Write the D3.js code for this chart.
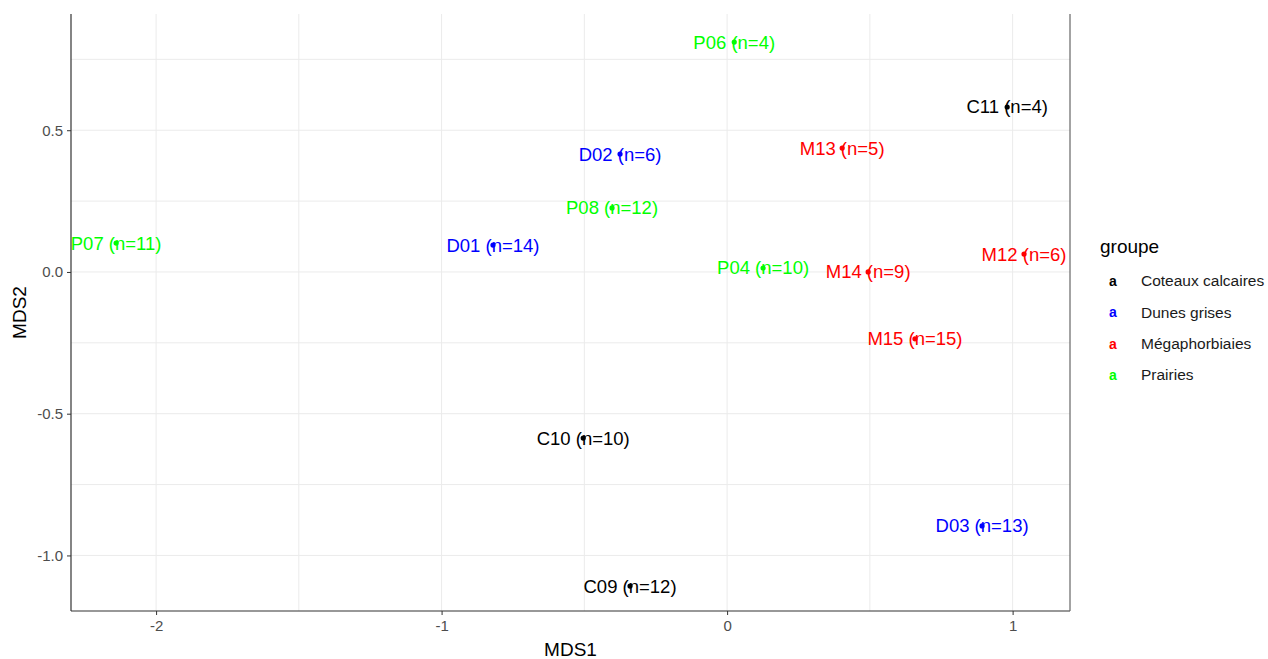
<!DOCTYPE html>
<html lang="en">
<head>
  <meta charset="utf-8">
  <title>MDS</title>
  <script src="https://d3js.org/d3.v7.min.js"></script>
  <style>
    body { margin: 0; background: #fff; }
    text { font-family: "Liberation Sans", Arial, sans-serif; }
  </style>
</head>
<body>
<script>
  // sites, groups and MDS coordinates
  var sites = ["P06", "C11", "D02", "M13", "P08", "P07", "D01", "M12", "P04", "M14", "M15", "C10", "D03", "C09"];
  var nReleves = [4, 4, 6, 5, 12, 11, 14, 6, 10, 9, 15, 10, 13, 12];
  var groupes = ["Prairies", "Coteaux calcaires", "Dunes grises", "Mégaphorbiaies", "Prairies", "Prairies", "Dunes grises",
                 "Mégaphorbiaies", "Prairies", "Mégaphorbiaies", "Mégaphorbiaies", "Coteaux calcaires", "Dunes grises", "Coteaux calcaires"];
  var mds1 = [0.025, 0.981, -0.375, 0.403, -0.403, -2.140, -0.820, 1.040, 0.126, 0.494, 0.658, -0.504, 0.893, -0.340];
  var mds2 = [0.811, 0.582, 0.416, 0.437, 0.226, 0.102, 0.095, 0.063, 0.014, 0.000, -0.236, -0.586, -0.896, -1.108];

  var legendGroups = ["Coteaux calcaires", "Dunes grises", "Mégaphorbiaies", "Prairies"];
  var groupColours = ["#000000", "#0000ff", "#ff0000", "#00ff00"];
  var xTicks = [-2, -1, 0, 1];
  var yTicks = [-1.0, -0.5, 0.0, 0.5];

  var w = 1268, h = 659;
  var pLeft = 71, pRight = 1070, pTop = 14, pBottom = 611;

  var x = d3.scaleLinear().domain([-2.298, 1.201]).range([pLeft, pRight]);
  var y = d3.scaleLinear().domain([-1.196, 0.910]).range([pBottom, pTop]);
  var colour = d3.scaleOrdinal().domain(legendGroups).range(groupColours);

  var data = sites.map(function(s, i) {
    return { site: s, n: nReleves[i], groupe: groupes[i], x: mds1[i], y: mds2[i] };
  });

  var svg = d3.select("body").append("svg")
    .attr("width", w)
    .attr("height", h);

  // grid lines, major and minor
  var xMinor = xTicks.slice(0, -1).map(function(t) { return t + 0.5; });
  var yMinor = [-0.75, -0.25, 0.25, 0.75];

  svg.append("g").selectAll("line")
    .data(xTicks.concat(xMinor))
    .enter().append("line")
    .attr("x1", function(d) { return x(d); })
    .attr("x2", function(d) { return x(d); })
    .attr("y1", pTop).attr("y2", pBottom)
    .attr("stroke", "#ebebeb").attr("stroke-width", 1);

  svg.append("g").selectAll("line")
    .data(yTicks.concat(yMinor))
    .enter().append("line")
    .attr("y1", function(d) { return y(d); })
    .attr("y2", function(d) { return y(d); })
    .attr("x1", pLeft).attr("x2", pRight)
    .attr("stroke", "#ebebeb").attr("stroke-width", 1);

  // axes
  var xAxis = svg.append("g")
    .attr("transform", "translate(0," + pBottom + ")")
    .call(d3.axisBottom(x).tickValues(xTicks).tickSize(4).tickPadding(5));
  var yAxis = svg.append("g")
    .attr("transform", "translate(" + pLeft + ",0)")
    .call(d3.axisLeft(y).tickValues(yTicks).tickSize(4).tickPadding(4));

  [xAxis, yAxis].forEach(function(a) {
    a.select(".domain").remove();
    a.selectAll(".tick line").attr("stroke", "#333333");
    a.selectAll(".tick text").attr("fill", "#4d4d4d").style("font-size", "15px")
      .style("font-family", "'Liberation Sans', Arial, sans-serif");
  });
  yAxis.selectAll(".tick text").text(function(d) { return d.toFixed(1); });
  xAxis.selectAll(".tick text").text(function(d) { return String(d); });

  svg.append("line").attr("x1", pLeft).attr("x2", pLeft).attr("y1", pTop).attr("y2", pBottom)
    .attr("stroke", "#333333").attr("stroke-width", 1.2);
  svg.append("line").attr("x1", pLeft).attr("x2", pRight).attr("y1", pBottom).attr("y2", pBottom)
    .attr("stroke", "#333333").attr("stroke-width", 1.2);
  svg.append("line").attr("x1", pRight).attr("x2", pRight).attr("y1", pTop).attr("y2", pBottom)
    .attr("stroke", "#666666").attr("stroke-width", 1.2);

  // points and labels
  var pts = svg.append("g").selectAll("g")
    .data(data)
    .enter().append("g")
    .attr("transform", function(d) { return "translate(" + x(d.x) + "," + y(d.y) + ")"; });

  pts.append("text")
    .attr("text-anchor", "middle")
    .attr("dy", "0.35em")
    .attr("fill", function(d) { return colour(d.groupe); })
    .style("font-size", "18.5px")
    .text(function(d) { return d.site + " (n=" + d.n + ")"; });

  pts.append("circle")
    .attr("r", 2.6)
    .attr("fill", function(d) { return colour(d.groupe); });

  // axis titles
  svg.append("text")
    .attr("x", (pLeft + pRight) / 2).attr("y", 656)
    .attr("text-anchor", "middle")
    .style("font-size", "19px")
    .text("MDS1");
  svg.append("text")
    .attr("transform", "translate(26," + (pTop + pBottom) / 2 + ") rotate(-90)")
    .attr("text-anchor", "middle")
    .style("font-size", "19px")
    .text("MDS2");

  // legend
  var legend = svg.append("g").attr("transform", "translate(1100,253)");
  legend.append("text")
    .attr("x", 0).attr("y", 0)
    .style("font-size", "19px")
    .text("groupe");

  var items = legend.selectAll(".item")
    .data(legendGroups)
    .enter().append("g")
    .attr("class", "item")
    .attr("transform", function(d, i) { return "translate(0," + (28 + i * 31.3) + ")"; });
  items.append("text")
    .attr("x", 13).attr("dy", "0.35em")
    .attr("text-anchor", "middle")
    .attr("fill", function(d) { return colour(d); })
    .style("font-size", "14px").style("font-weight", "bold")
    .text("a");
  items.append("text")
    .attr("x", 41).attr("dy", "0.35em")
    .attr("fill", "#1a1a1a")
    .style("font-size", "15.5px")
    .text(function(d) { return d; });
</script>
</body>
</html>
